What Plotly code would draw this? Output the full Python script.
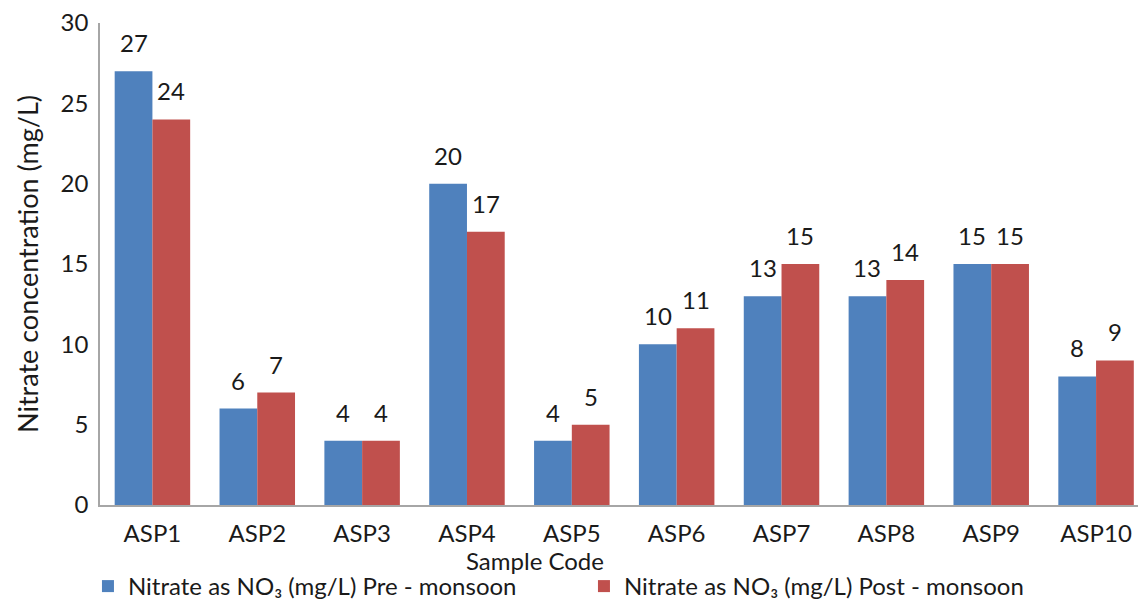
import plotly.graph_objects as go

samples = ["ASP1", "ASP2", "ASP3", "ASP4", "ASP5", "ASP6", "ASP7", "ASP8", "ASP9", "ASP10"]
pre_monsoon = [27, 6, 4, 20, 4, 10, 13, 13, 15, 8]
post_monsoon = [24, 7, 4, 17, 5, 11, 15, 14, 15, 9]
y_ticks = [0, 5, 10, 15, 20, 25, 30]

FONT = "Lato"
BLUE = "#4F81BD"
RED = "#C0504D"
TEXT = "#1a1a1a"

# plot geometry used to offset the value labels over each bar of a group
W, H = 1138, 609
ML, MR, MT, MB = 100, 0, 23, 104
X_RANGE = [-0.5, 9.4]
BARGAP = 0.28
px_per_cat = (W - ML - MR) / (X_RANGE[1] - X_RANGE[0])
bar_offset = (1 - BARGAP) * px_per_cat / 4
plot_h = H - MT - MB

fig = go.Figure()
series = [
    ("Nitrate as NO\u2083 (mg/L) Pre - monsoon", pre_monsoon, BLUE, -bar_offset),
    ("Nitrate as NO\u2083 (mg/L) Post - monsoon", post_monsoon, RED, bar_offset),
]
for name, vals, color, shift in series:
    fig.add_trace(go.Bar(
        x=samples, y=vals, name=name,
        marker=dict(color=color, line=dict(width=0)),
    ))
    for s, v in zip(samples, vals):
        fig.add_annotation(
            x=s, y=v, xref="x", yref="y", text=str(v), showarrow=False,
            xshift=shift, yshift=12, yanchor="bottom",
            font=dict(family=FONT, size=24, color=TEXT),
        )

fig.add_annotation(
    x=0.419, y=-55 / plot_h, xref="paper", yref="paper", text="Sample Code",
    showarrow=False, xanchor="center", yanchor="middle",
    font=dict(family=FONT, size=24, color=TEXT),
)

fig.update_layout(
    width=W, height=H,
    paper_bgcolor="white", plot_bgcolor="white",
    margin=dict(l=ML, r=MR, t=MT, b=MB, autoexpand=False),
    barmode="group", bargap=BARGAP, bargroupgap=0,
    font=dict(family=FONT, size=24, color=TEXT),
    xaxis=dict(
        range=X_RANGE, showline=True, linecolor="#a6a6a6", linewidth=1.5,
        ticks="", tickfont=dict(size=24), ticklabelstandoff=6,
    ),
    yaxis=dict(
        range=[0, 30], tickvals=y_ticks, showgrid=False, zeroline=False,
        showline=True, linecolor="#a6a6a6", linewidth=1.5,
        ticks="", ticklabelstandoff=5, tickfont=dict(size=24),
        title=dict(text="Nitrate concentration (mg/L)", standoff=14, font=dict(size=27)),
    ),
    legend=dict(
        orientation="h", x=-0.0116, xanchor="left", y=-104 / plot_h, yanchor="bottom",
        entrywidth=451, entrywidthmode="pixels",
        font=dict(size=24), itemwidth=30,
    ),
)

fig.write_html("out.html")
